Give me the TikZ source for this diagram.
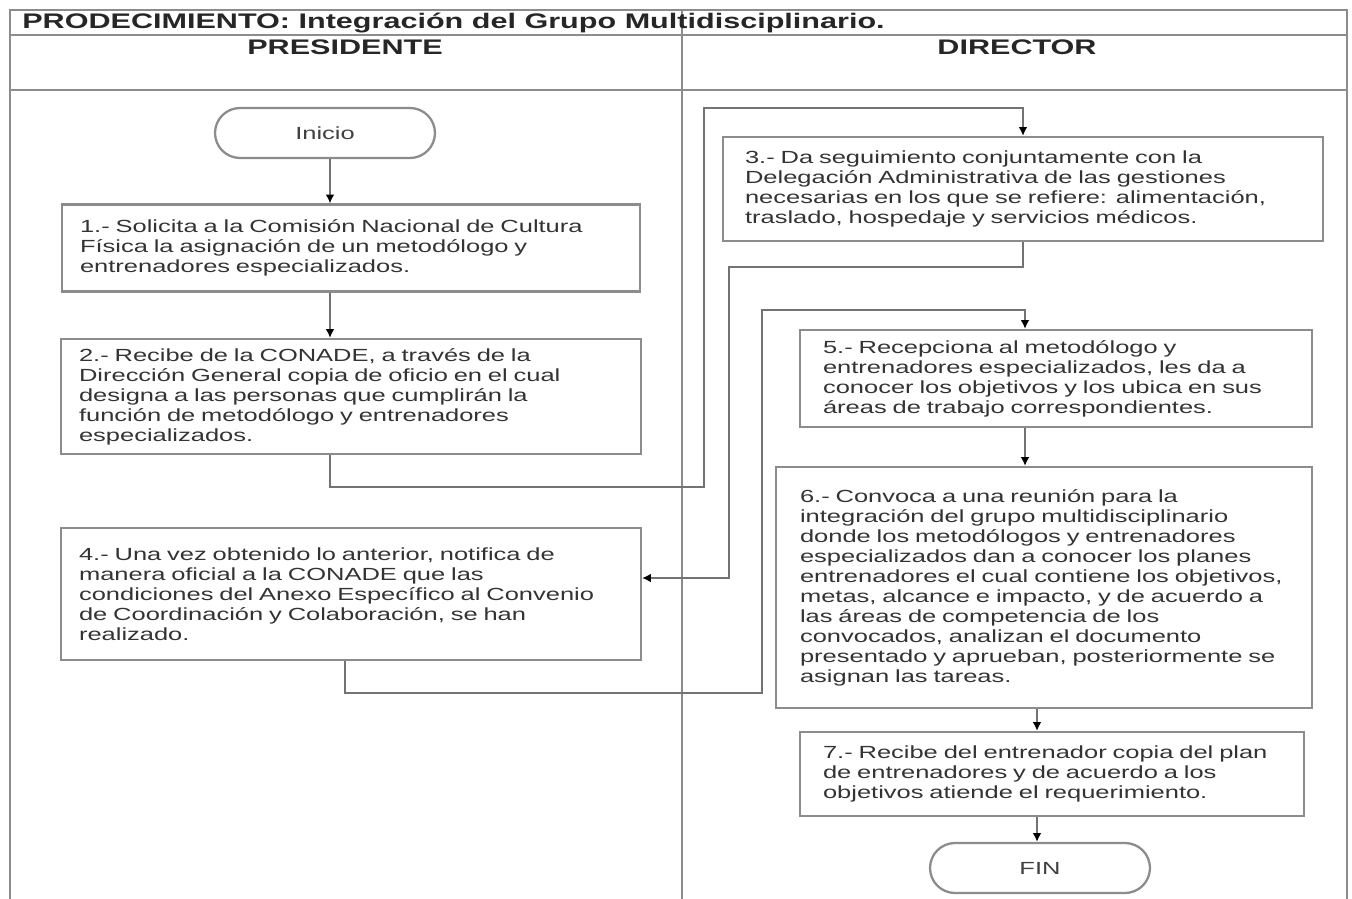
\documentclass[tikz,border=0pt]{standalone}
\usepackage{fontspec}
\setmainfont{Liberation Sans}[FakeStretch=1.45]
\usepackage{tikz}
\usetikzlibrary{arrows.meta}
\tikzset{%
  frame/.style={draw=black!45, line width=1.3pt},
  procbox/.style={draw=black!45, line width=1.3pt, rectangle, inner xsep=0.36cm, inner ysep=0pt,
    align=left, text=black!80, font=\fontsize{10pt}{11.4pt}\selectfont},
  terminal/.style={draw=black!45, line width=1.3pt, rectangle, rounded corners=0.5cm,
    minimum width=4.4cm, minimum height=1cm, text=black!75, font=\fontsize{10pt}{11.4pt}\selectfont},
  flow/.style={draw=black!55, line width=1.3pt},
  flowarrow/.style={flow, -{Latex[length=5pt,width=5pt,color=black]}},
  lanehead/.style={inner sep=0, text=black!85, font=\bfseries\fontsize{12pt}{14pt}\selectfont}
}
\newcommand{\pagew}{1352}
\newcommand{\pageh}{899}

\begin{document}
\begin{tikzpicture}[x=0.02cm, y=-0.02cm]
\useasboundingbox (0,0) rectangle (\pagew,\pageh);

% frame and swim lanes
\draw[frame] (10,\pageh) -- (10,10) -- (1347,10) -- (1347,\pageh);
\draw[frame] (10,35) -- (1347,35);
\draw[frame] (10,90) -- (1347,90);
\draw[frame] (682,10) -- (682,\pageh);

\node[anchor=south west, lanehead] (title) at (22,33) {PRODECIMIENTO: Integración del Grupo Multidisciplinario.};
\node[lanehead] (presidente) at (345,47) {PRESIDENTE};
\node[lanehead] (director) at (1017,47) {DIRECTOR};

% columns of the connectors
\coordinate (colL) at (330,0);
\coordinate (colLb) at (345,0);
\coordinate (colR) at (1025,0);
\coordinate (colS) at (1037,0);

% PRESIDENTE
\node[terminal] (ini) at (325,133) {Inicio};

\node[procbox, text width=10.84cm, minimum height=1.74cm] (b1) at (351,248) {1.- Solicita a la Comisión Nacional de Cultura\\
Física la asignación de un metodólogo y\\
entrenadores especializados.};

\node[procbox, text width=10.88cm, minimum height=2.3cm] (b2) at (351,396.5) {2.- Recibe de la CONADE, a través de la\\
Dirección General copia de oficio en el cual\\
designa a las personas que cumplirán la\\
función de metodólogo y entrenadores\\
especializados.};

\node[procbox, text width=10.88cm, minimum height=2.64cm] (b4) at (351,594) {4.- Una vez obtenido lo anterior, notifica de\\
manera oficial a la CONADE que las\\
condiciones del Anexo Específico al Convenio\\
de Coordinación y Colaboración, se han\\
realizado.};

% DIRECTOR
\node[procbox, inner xsep=0.44cm, text width=11.12cm, minimum height=2.08cm] (b3) at (1023,189) {3.- Da seguimiento conjuntamente con la\\
Delegación Administrativa de las gestiones\\
necesarias en los que se refiere: alimentación,\\
traslado, hospedaje y servicios médicos.};

\node[procbox, inner xsep=0.46cm, text width=9.32cm, minimum height=1.94cm] (b5) at (1056,378.5) {5.- Recepciona al metodólogo y\\
entrenadores especializados, les da a\\
conocer los objetivos y los ubica en sus\\
áreas de trabajo correspondientes.};

\node[procbox, inner xsep=0.48cm, text width=9.76cm, minimum height=4.82cm] (b6) at (1044,587.5) {6.- Convoca a una reunión para la\\
integración del grupo multidisciplinario\\
donde los metodólogos y entrenadores\\
especializados dan a conocer los planes\\
entrenadores el cual contiene los objetivos,\\
metas, alcance e impacto, y de acuerdo a\\
las áreas de competencia de los\\
convocados, analizan el documento\\
presentado y aprueban, posteriormente se\\
asignan las tareas.};

\node[procbox, inner xsep=0.46cm, text width=9.16cm, minimum height=1.68cm] (b7) at (1052,774) {7.- Recibe del entrenador copia del plan\\
de entrenadores y de acuerdo a los\\
objetivos atiende el requerimiento.};

\node[terminal] (fin) at (1040,868) {FIN};

% bends of the connectors
\coordinate (k1) at (704,487);
\coordinate (k2) at (704,108);
\coordinate (k3) at (729,267);
\coordinate (k4) at (762,693);
\coordinate (k5) at (762,310);

\draw[flowarrow] (ini.south -| colL) -- (b1.north -| colL);
\draw[flowarrow] (b1.south -| colL) -- (b2.north -| colL);
\draw[flowarrow] (b2.south -| colL) |- (k1) -- (k2) -| (b3.north);
\draw[flowarrow] (b3.south) |- (k3) |- ([yshift=0.32cm]b4.east);
\draw[flowarrow] (b4.south -| colLb) |- (k4) -- (k5) -| (b5.north -| colR);
\draw[flowarrow] (b5.south -| colR) -- (b6.north -| colR);
\draw[flowarrow] (b6.south -| colS) -- (b7.north -| colS);
\draw[flowarrow] (b7.south -| colS) -- (fin.north -| colS);

\end{tikzpicture}
\end{document}
